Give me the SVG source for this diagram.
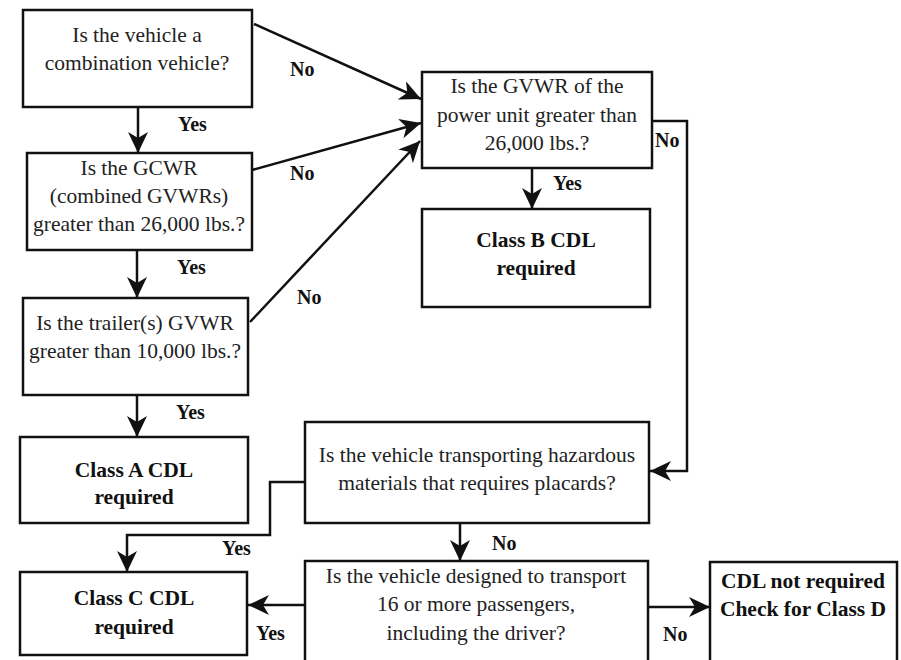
<svg xmlns="http://www.w3.org/2000/svg" width="901" height="660" viewBox="0 0 901 660">
<style>
.box{fill:#fff;stroke:#111;stroke-width:2.5}
.t{font-family:"Liberation Serif","Times New Roman",serif;font-size:21.5px;fill:#222;text-anchor:middle}
.b{font-family:"Liberation Serif","Times New Roman",serif;font-size:21.5px;font-weight:bold;fill:#111;text-anchor:middle}
.l{font-family:"Liberation Serif","Times New Roman",serif;font-size:20px;font-weight:bold;fill:#111}
.c{fill:none;stroke:#111;stroke-width:2.5}
</style>
<defs>
<marker id="ah" markerWidth="22" markerHeight="20" refX="21" refY="10" orient="auto" markerUnits="userSpaceOnUse">
<path d="M0,0 L21,10 L0,20 L6,10 Z" fill="#111"/>
</marker>
</defs>
<rect width="901" height="660" fill="#fff"/>
<g id="connectors">
<line class="c" x1="254" y1="24" x2="421" y2="99" marker-end="url(#ah)"/>
<line class="c" x1="252" y1="170" x2="421" y2="123" marker-end="url(#ah)"/>
<line class="c" x1="250" y1="322" x2="420" y2="141" marker-end="url(#ah)"/>
<line class="c" x1="138" y1="107" x2="138" y2="153" marker-end="url(#ah)"/>
<line class="c" x1="137" y1="250" x2="137" y2="298" marker-end="url(#ah)"/>
<line class="c" x1="137" y1="395" x2="137" y2="437" marker-end="url(#ah)"/>
<line class="c" x1="532" y1="168" x2="532" y2="209" marker-end="url(#ah)"/>
<polyline class="c" points="652,121 687,121 687,471 650,471" marker-end="url(#ah)"/>
<polyline class="c" points="305,482 270,482 270,535 127,535 127,572" marker-end="url(#ah)"/>
<line class="c" x1="460" y1="523" x2="460" y2="561" marker-end="url(#ah)"/>
<line class="c" x1="305" y1="605" x2="248" y2="605" marker-end="url(#ah)"/>
<line class="c" x1="648" y1="607" x2="710" y2="607" marker-end="url(#ah)"/>
<text class="l" x="290" y="76">No</text>
<text class="l" x="290" y="180">No</text>
<text class="l" x="297" y="304">No</text>
<text class="l" x="178" y="131">Yes</text>
<text class="l" x="177" y="274">Yes</text>
<text class="l" x="176" y="419">Yes</text>
<text class="l" x="553" y="190">Yes</text>
<text class="l" x="655" y="147">No</text>
<text class="l" x="222" y="555">Yes</text>
<text class="l" x="492" y="550">No</text>
<text class="l" x="256" y="640">Yes</text>
<text class="l" x="663" y="641">No</text>
</g>
<g id="n1"><rect class="box" x="23" y="10" width="229" height="97"/>
<text class="t" x="137" y="42">Is the vehicle a</text><text class="t" x="137" y="70">combination vehicle?</text></g>
<g id="n2"><rect class="box" x="27" y="153" width="225" height="97"/>
<text class="t" x="139" y="175">Is the GCWR</text><text class="t" x="139" y="203">(combined GVWRs)</text><text class="t" x="139" y="231">greater than 26,000 lbs.?</text></g>
<g id="n3"><rect class="box" x="23" y="298" width="225" height="97"/>
<text class="t" x="135" y="330">Is the trailer(s) GVWR</text><text class="t" x="135" y="358">greater than 10,000 lbs.?</text></g>
<g id="nA"><rect class="box" x="20" y="437" width="228" height="86"/>
<text class="b" x="134" y="477">Class A CDL</text><text class="b" x="134" y="504">required</text></g>
<g id="nC"><rect class="box" x="20" y="572" width="227" height="83"/>
<text class="b" x="134" y="605">Class C CDL</text><text class="b" x="134" y="634">required</text></g>
<g id="nP"><rect class="box" x="422" y="72" width="230" height="96"/>
<text class="t" x="537" y="93">Is the GVWR of  the</text><text class="t" x="537" y="122">power unit greater than</text><text class="t" x="537" y="150">26,000 lbs.?</text></g>
<g id="nB"><rect class="box" x="422" y="209" width="228" height="98"/>
<text class="b" x="536" y="247">Class B CDL</text><text class="b" x="536" y="275">required</text></g>
<g id="nH"><rect class="box" x="305" y="422" width="344" height="101"/>
<text class="t" x="477" y="462">Is the vehicle transporting hazardous</text><text class="t" x="477" y="490">materials that requires placards?</text></g>
<g id="nV"><rect class="box" x="305" y="561" width="343" height="110"/>
<text class="t" x="476" y="583">Is the vehicle designed to transport</text><text class="t" x="476" y="611">16 or more passengers,</text><text class="t" x="476" y="640">including the driver?</text></g>
<g id="nD"><rect class="box" x="710" y="562" width="187" height="110"/>
<text class="b" x="803" y="588">CDL not required</text><text class="b" x="803" y="616">Check for Class D</text></g>
</svg>
